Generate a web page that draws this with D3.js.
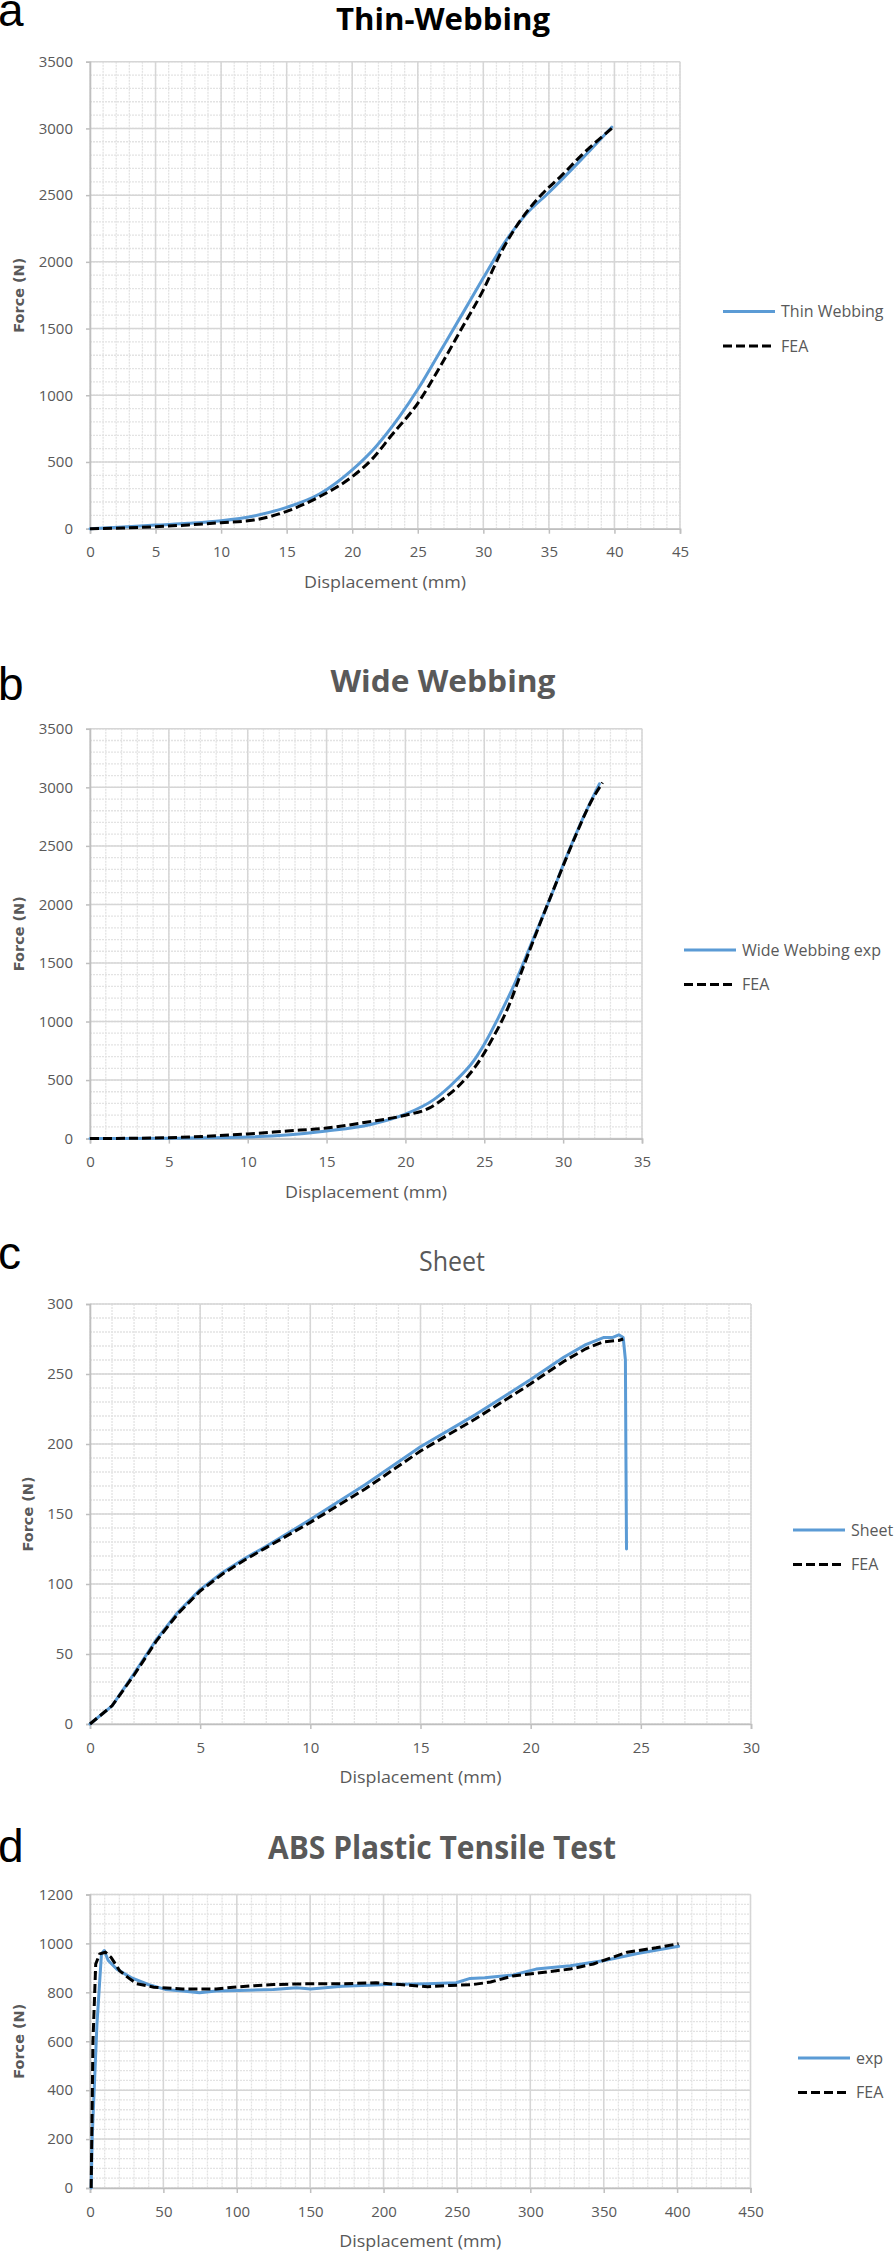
<!DOCTYPE html>
<html><head><meta charset="utf-8">
<script src="https://cdn.jsdelivr.net/npm/d3@7"></script>
<style>body{margin:0;background:#fff}svg{display:block}</style>
</head><body>
<svg id="chart" width="894" height="2252"></svg>
<script>
// ---------- Data: (a) Thin-Webbing ----------
const thinExpX = [0, 2.5, 5, 7.5, 10, 12.5, 15, 17.5, 20, 21.8, 23.6, 25.1, 26.6, 28.4, 30, 31.6, 33.2, 35, 37.5, 39.8];
const thinExpF = [0, 12, 27, 40, 59, 95, 160, 260, 441, 615, 840, 1060, 1310, 1610, 1880, 2140, 2350, 2520, 2770, 3010];
const thinFeaX = [0, 2.5, 5, 7.5, 10, 12.5, 15, 17.5, 20, 21.5, 23, 25, 26.5, 28.4, 30, 31.4, 32.9, 34.5, 36, 37.5, 39.8];
const thinFeaF = [0, 5, 15, 28, 45, 65, 130, 240, 390, 520, 700, 940, 1180, 1510, 1790, 2080, 2320, 2510, 2650, 2800, 3000];
const thinTicksX = [0, 5, 10, 15, 20, 25, 30, 35, 40, 45];
const thinTicksY = [0, 500, 1000, 1500, 2000, 2500, 3000, 3500];

// ---------- Data: (b) Wide Webbing ----------
const wideExpX = [0, 5, 10, 15, 17.8, 20, 21.8, 23.2, 24.3, 25, 25.9, 27, 28.1, 29.2, 30.1, 31.2, 32.3];
const wideExpF = [0, 3, 13, 65, 121, 209, 333, 496, 659, 806, 1035, 1345, 1704, 2060, 2370, 2720, 3030];
const wideFeaX = [0, 5, 10, 12.5, 15, 17.5, 20, 21.5, 22.5, 23.3, 24.5, 25.5, 26.5, 27.5, 28.6, 29.7, 30.8, 31.7, 32.5];
const wideFeaF = [0, 8, 40, 65, 90, 140, 200, 260, 350, 440, 627, 850, 1117, 1476, 1860, 2230, 2590, 2860, 3040];
const wideTicksX = [0, 5, 10, 15, 20, 25, 30, 35];
const wideTicksY = [0, 500, 1000, 1500, 2000, 2500, 3000, 3500];

// ---------- Data: (c) Sheet ----------
const sheetExpX = [0, 1, 2, 3, 4, 5, 6, 7, 8, 10, 12.5, 15, 17.5, 20, 21.5, 22.5, 23.3, 23.7, 24.0, 24.2, 24.3, 24.32, 24.35];
const sheetExpF = [0, 13, 36, 60, 80, 96, 108, 118, 127, 146, 171, 198, 221, 246, 262, 271, 276, 276, 278, 276, 260, 200, 125];
const sheetFeaX = [0, 1, 2, 3, 4, 5, 6, 7, 8, 10, 12.5, 15, 17.5, 20, 21.5, 22.5, 23.3, 24.0, 24.2];
const sheetFeaF = [0, 13, 35, 59, 79, 95, 107, 117, 126, 144, 168, 195, 218, 243, 259, 268, 273, 274, 275];
const sheetTicksX = [0, 5, 10, 15, 20, 25, 30];
const sheetTicksY = [0, 50, 100, 150, 200, 250, 300];

// ---------- Data: (d) ABS Plastic Tensile Test ----------
const absExpX = [0.8, 1.5, 4.7, 7.8, 9.7, 12.4, 18.3, 28, 39.6, 51.3, 63, 74.6, 86, 101.8, 125, 140.7, 150.4, 171.8, 202.9, 230, 249.5, 259, 268.9, 288.4, 303.9, 327.2, 350.6, 373.9, 401];
const absExpF = [0, 208, 666, 957, 971, 930, 895, 860, 832, 812, 805, 798, 805, 807, 812, 819, 814, 825, 832, 835, 839, 857, 860, 871, 895, 909, 930, 960, 988];
const absFeaX = [0.8, 2, 3.9, 6.6, 10.5, 14.4, 20.2, 26, 31.9, 43.5, 63, 86, 102, 125, 148.5, 172, 195, 211, 230, 245.6, 261, 273, 288, 308, 327, 343, 366, 385.6, 401];
const absFeaF = [0, 597, 916, 957, 964, 943, 888, 860, 835, 821, 814, 814, 823, 832, 835, 835, 839, 832, 823, 828, 832, 842, 867, 881, 895, 916, 964, 982, 999];
const absTicksX = [0, 50, 100, 150, 200, 250, 300, 350, 400, 450];
const absTicksY = [0, 200, 400, 600, 800, 1000, 1200];

const BLUE = "#5b9bd5", GRAY = "#595959";
const svg = d3.select("#chart");

function drawPanel(p) {
  const g = svg.append("g");
  const x = d3.scaleLinear().domain([p.ticksX[0], p.ticksX[p.ticksX.length - 1]]).range([p.left, p.right]);
  const y = d3.scaleLinear().domain([p.ticksY[0], p.ticksY[p.ticksY.length - 1]]).range([p.bottom, p.top]);
  const stepX = (p.ticksX[1] - p.ticksX[0]) / 5, stepY = (p.ticksY[1] - p.ticksY[0]) / 5;
  const minorX = d3.range(x.domain()[0], x.domain()[1] + 1e-9, stepX);
  const minorY = d3.range(y.domain()[0], y.domain()[1] + 1e-9, stepY);

  // minor grid
  g.append("g").selectAll("line").data(minorX).join("line")
    .attr("x1", d => x(d)).attr("x2", d => x(d)).attr("y1", p.top).attr("y2", p.bottom)
    .attr("stroke", "#e3e3e3").attr("stroke-width", 1.3).attr("stroke-dasharray", "2,1");
  g.append("g").selectAll("line").data(minorY).join("line")
    .attr("y1", d => y(d)).attr("y2", d => y(d)).attr("x1", p.left).attr("x2", p.right)
    .attr("stroke", "#e3e3e3").attr("stroke-width", 1.3).attr("stroke-dasharray", "2,1");
  // major grid
  g.append("g").selectAll("line").data(p.ticksX).join("line")
    .attr("x1", d => x(d)).attr("x2", d => x(d)).attr("y1", p.top).attr("y2", p.bottom)
    .attr("stroke", "#d6d6d6").attr("stroke-width", 1.5);
  g.append("g").selectAll("line").data(p.ticksY).join("line")
    .attr("y1", d => y(d)).attr("y2", d => y(d)).attr("x1", p.left).attr("x2", p.right)
    .attr("stroke", "#d6d6d6").attr("stroke-width", 1.5);

  // axes
  const ax = g.append("g").attr("transform", `translate(0,${p.bottom})`)
    .call(d3.axisBottom(x).tickValues(p.ticksX).tickSize(5).tickPadding(13).tickFormat(d3.format("d")));
  const ay = g.append("g").attr("transform", `translate(${p.left},0)`)
    .call(d3.axisLeft(y).tickValues(p.ticksY).tickSize(4).tickPadding(13).tickFormat(d3.format("d")));
  [ax, ay].forEach(a => {
    a.select(".domain").attr("stroke", "#bfbfbf").attr("stroke-width", 1.6);
    a.selectAll(".tick line").attr("stroke", "#bfbfbf").attr("stroke-width", 1.5);
    a.selectAll(".tick text").attr("fill", GRAY).style("font-family", "'Open Sans'").style("font-size", "15px");
  });

  // curves
  const line = d3.line().x(d => x(d[0])).y(d => y(d[1])).curve(p.curve);
  const expPts = p.expX.map((v, i) => [v, p.expF[i]]);
  const feaPts = p.feaX.map((v, i) => [v, p.feaF[i]]);
  g.append("path").attr("d", line(expPts)).attr("fill", "none").attr("stroke", BLUE)
    .attr("stroke-width", 3).attr("stroke-linejoin", "round").attr("stroke-linecap", "round");
  g.append("path").attr("d", line(feaPts)).attr("fill", "none").attr("stroke", "#000")
    .attr("stroke-width", 3).attr("stroke-dasharray", "9,4");

  // y axis title
  g.append("text").attr("transform", `translate(${p.yLabelX},${(p.top + p.bottom) / 2}) rotate(-90)`)
    .attr("text-anchor", "middle").attr("dy", "0.35em").attr("fill", GRAY)
    .style("font-family", "'DejaVu Sans'").style("font-weight", "bold").style("font-size", "14.5px")
    .attr("textLength", 75).attr("lengthAdjust", "spacingAndGlyphs")
    .text("Force (N)");
  // x axis title
  g.append("text").attr("x", (p.left + p.right) / 2).attr("y", p.bottom + 59)
    .attr("text-anchor", "middle").attr("fill", GRAY)
    .style("font-family", "'Open Sans'").style("font-size", "16px")
    .attr("textLength", 162).attr("lengthAdjust", "spacingAndGlyphs")
    .text("Displacement (mm)");
  // title
  g.append("text").attr("x", p.titleX).attr("y", p.titleY).attr("text-anchor", "middle")
    .attr("fill", p.titleColor).style("font-family", "'Open Sans'")
    .style("font-weight", p.titleBold ? "bold" : "normal").style("font-size", p.titleSize + "px")
    .attr("textLength", p.titleW).attr("lengthAdjust", "spacingAndGlyphs")
    .text(p.title);
  // panel letter
  g.append("text").attr("x", -2).attr("y", p.letterY).attr("fill", "#000")
    .style("font-family", "'Liberation Sans'").style("font-size", "46px").text(p.letter);

  // legend
  const lg = g.append("g");
  const items = [{name: p.expName, fea: false, y: p.legY}, {name: "FEA", fea: true, y: p.legY + 34.5}];
  items.forEach(it => {
    lg.append("line").attr("x1", p.legX).attr("x2", p.legX + 52).attr("y1", it.y).attr("y2", it.y)
      .attr("stroke", it.fea ? "#000" : BLUE).attr("stroke-width", 3)
      .attr("stroke-dasharray", it.fea ? "9,4" : null);
    lg.append("text").attr("x", p.legX + 58).attr("y", it.y).attr("dy", "0.35em").attr("fill", GRAY)
      .style("font-family", "'Open Sans'").style("font-size", "16px").text(it.name);
  });
}

drawPanel({letter: "a", letterY: 26, title: "Thin-Webbing", titleX: 443, titleY: 30, titleW: 214, titleSize: 31, titleBold: true, titleColor: "#000",
  left: 90, right: 680, top: 61.7, bottom: 528.7, ticksX: thinTicksX, ticksY: thinTicksY,
  expX: thinExpX, expF: thinExpF, feaX: thinFeaX, feaF: thinFeaF, curve: d3.curveMonotoneX,
  yLabelX: 19, expName: "Thin Webbing", legX: 723, legY: 311.5});

drawPanel({letter: "b", letterY: 700, title: "Wide Webbing", titleX: 443, titleY: 692, titleW: 225, titleSize: 31, titleBold: true, titleColor: GRAY,
  left: 90, right: 642, top: 728.8, bottom: 1138.6, ticksX: wideTicksX, ticksY: wideTicksY,
  expX: wideExpX, expF: wideExpF, feaX: wideFeaX, feaF: wideFeaF, curve: d3.curveMonotoneX,
  yLabelX: 19, expName: "Wide Webbing exp", legX: 684, legY: 950});

drawPanel({letter: "c", letterY: 1269, title: "Sheet", titleX: 452, titleY: 1271, titleW: 66, titleSize: 27, titleBold: false, titleColor: GRAY,
  left: 90, right: 751, top: 1304, bottom: 1724, ticksX: sheetTicksX, ticksY: sheetTicksY,
  expX: sheetExpX, expF: sheetExpF, feaX: sheetFeaX, feaF: sheetFeaF, curve: d3.curveLinear,
  yLabelX: 28, expName: "Sheet", legX: 793, legY: 1530});

drawPanel({letter: "d", letterY: 1862, title: "ABS Plastic Tensile Test", titleX: 442, titleY: 1859, titleW: 348, titleSize: 33, titleBold: true, titleColor: GRAY,
  left: 90, right: 750.5, top: 1894.5, bottom: 2188, ticksX: absTicksX, ticksY: absTicksY,
  expX: absExpX, expF: absExpF, feaX: absFeaX, feaF: absFeaF, curve: d3.curveLinear,
  yLabelX: 19, expName: "exp", legX: 798, legY: 2058});
</script>
</body></html>
